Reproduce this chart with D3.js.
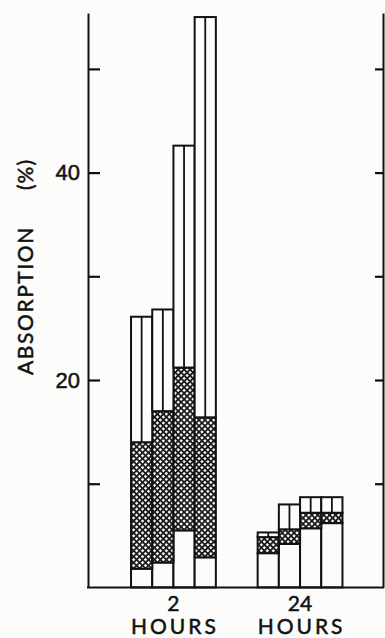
<!DOCTYPE html>
<html>
<head>
<meta charset="utf-8">
<script src="https://cdn.jsdelivr.net/npm/d3@7"></script>
<style>
  html, body { margin: 0; padding: 0; background: #fcfcfa; }
  svg { display: block; font-family: Lato, "Open Sans", sans-serif; }
</style>
</head>
<body>
<svg id="chart" width="385" height="638"></svg>
<script>
// time points and their unit
const groups = ['2', '24'];
const groupUnit = 'HOURS';
const barsPerGroup = ['a', 'b', 'c', 'd'];

// segment heights (%), bottom to top, one entry per bar
const plain2h   = [1.8, 2.4, 5.5, 2.9];
const hatched2h = [12.2, 14.6, 15.7, 13.5];
const striped2h = [12.1, 9.8, 21.4, 38.6];

const plain24h   = [3.3, 4.2, 5.7, 6.2];
const hatched24h = [1.55, 1.4, 1.5, 1.0];
const striped24h = [0.45, 2.4, 1.5, 1.5];

const yTicks = [10, 20, 30, 40, 50];
const yLabelled = [20, 40];
const yMax = 55.4;

const keys = ['plain', 'hatched', 'striped'];
const segs = {
  '2': [plain2h, hatched2h, striped2h],
  '24': [plain24h, hatched24h, striped24h]
};

const rows = [];
groups.forEach(g => {
  barsPerGroup.forEach((b, i) => {
    rows.push({
      group: g,
      bar: b,
      plain: segs[g][0][i],
      hatched: segs[g][1][i],
      striped: segs[g][2][i]
    });
  });
});

const left = 88, right = 383, bottom = 587.4;

const svg = d3.select('#chart');

const y = d3.scaleLinear()
    .domain([0, 50])
    .range([bottom, 68.9]);

const x0 = d3.scaleBand()
    .domain(groups)
    .range([left, right])
    .paddingInner(0.33)
    .paddingOuter(0.33)
    .align(0.515);

const x1 = d3.scaleBand()
    .domain(barsPerGroup)
    .range([0, x0.bandwidth()])
    .padding(0);

// cross hatch pattern
const defs = svg.append('defs');
const pat = defs.append('pattern')
    .attr('id', 'xhatch')
    .attr('patternUnits', 'userSpaceOnUse')
    .attr('width', 4.2)
    .attr('height', 4.2)
    .attr('patternTransform', 'rotate(45)');
pat.append('rect').attr('width', 4.2).attr('height', 4.2).attr('fill', '#fcfcfa');
pat.append('rect').attr('width', 4.2).attr('height', 1.8).attr('fill', '#1a1a1a');
pat.append('rect').attr('width', 1.8).attr('height', 4.2).attr('fill', '#1a1a1a');

const stacked = d3.stack().keys(keys)(rows);

const yTop = d3.scaleLinear().domain([0, yMax]).range([bottom, y(yMax)]);

// bars
const layer = svg.append('g')
  .selectAll('g')
  .data(stacked)
  .join('g')
    .attr('class', d => 'seg-' + d.key);

layer.selectAll('rect')
  .data(d => d.map(s => Object.assign(s, { key: d.key })))
  .join('rect')
    .attr('x', d => x0(d.data.group) + x1(d.data.bar))
    .attr('y', d => y(d[1]))
    .attr('width', x1.bandwidth())
    .attr('height', d => y(d[0]) - y(d[1]))
    .attr('fill', d => d.key === 'hatched' ? 'url(#xhatch)' : '#fcfcfa')
    .attr('stroke', '#111')
    .attr('stroke-width', 2);

// middle divider of the striped (top) segment
svg.append('g')
  .selectAll('line')
  .data(stacked[2])
  .join('line')
    .attr('x1', d => x0(d.data.group) + x1(d.data.bar) + x1.bandwidth() / 2)
    .attr('x2', d => x0(d.data.group) + x1(d.data.bar) + x1.bandwidth() / 2)
    .attr('y1', d => y(d[1]))
    .attr('y2', d => y(d[0]))
    .attr('stroke', '#111')
    .attr('stroke-width', 1.8);

// left axis, ticks inside
svg.append('g')
    .attr('transform', `translate(${left},0)`)
    .call(d3.axisLeft(yTop)
      .tickValues(yTicks)
      .tickSizeInner(-12)
      .tickSizeOuter(0)
      .tickPadding(8)
      .tickFormat(d => yLabelled.includes(d) ? d : ''))
    .call(g => g.selectAll('.tick line').attr('stroke', '#111').attr('stroke-width', 2.2))
    .call(g => g.select('.domain').attr('stroke', '#111').attr('stroke-width', 2))
    .call(g => g.selectAll('.tick text')
      .attr('font-size', 22)
      .attr('fill', '#111')
      .attr('stroke', '#111')
      .attr('stroke-width', 0.5));

// right axis
svg.append('g')
    .attr('transform', `translate(${right},0)`)
    .call(d3.axisRight(yTop)
      .tickValues(yTicks)
      .tickSizeInner(-8)
      .tickSizeOuter(0)
      .tickFormat(''))
    .call(g => g.selectAll('.tick line').attr('stroke', '#111').attr('stroke-width', 2.2))
    .call(g => g.select('.domain').attr('stroke', '#111').attr('stroke-width', 2));

// baseline
svg.append('line')
    .attr('x1', left - 1)
    .attr('x2', right + 1)
    .attr('y1', bottom)
    .attr('y2', bottom)
    .attr('stroke', '#111')
    .attr('stroke-width', 2);

// group labels
const lab = svg.append('g')
  .selectAll('text')
  .data(groups)
  .join('text')
    .attr('transform', d => `translate(${x0(d) + x0.bandwidth() / 2},0)`)
    .attr('text-anchor', 'middle')
    .attr('font-size', 21)
    .attr('fill', '#111')
    .attr('stroke', '#111')
    .attr('stroke-width', 0.5);
lab.append('tspan').attr('x', 0).attr('y', 611).text(d => d);
lab.append('tspan').attr('x', 1.5).attr('y', 634)
    .attr('letter-spacing', 3)
    .text(groupUnit);

// y title
const yt = svg.append('text')
    .attr('transform', 'translate(33,375) rotate(-90)')
    .attr('font-size', 21)
    .attr('fill', '#111')
    .attr('stroke', '#111')
    .attr('stroke-width', 0.5);
yt.append('tspan').attr('letter-spacing', 1.6).text('ABSORPTION');
yt.append('tspan').attr('x', 185).attr('letter-spacing', 1).text('(%)');
</script>
</body>
</html>
